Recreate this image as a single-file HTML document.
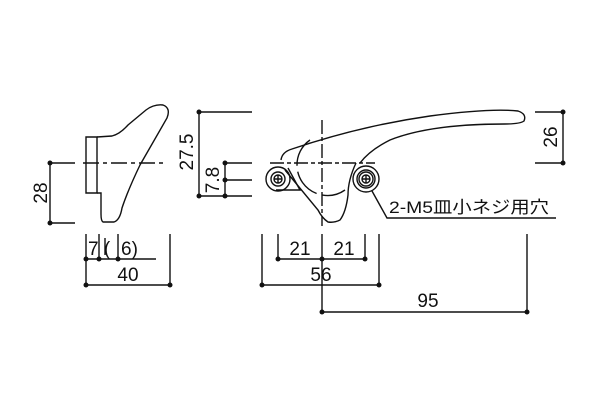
<!DOCTYPE html>
<html><head><style>body{margin:0;background:#fff}svg{display:block}text{font-family:"Liberation Sans","Noto Sans CJK JP",sans-serif;fill:#111}</style></head><body>
<svg width="600" height="400" viewBox="0 0 600 400" xmlns="http://www.w3.org/2000/svg">
<g stroke="#111" stroke-width="1.4" fill="none">
<path d="M86 137 H97 V193 H86 Z"/>
<path d="M97 137 L112 136 Q120 134 128 125 L146 110 Q154 104 163 105 Q171 108 167 118 L140 165 Q128 190 122 208 Q120 220 114 222 H103 Q101 221 101 214 V193 H97"/>
<path d="M83 163 H167" stroke-dasharray="16 4 4 4"/>
<path d="M50 163 V223 M50 163 H75 M50 223 H75"/>
<path d="M86 234 V285 M99 234 V259 M118 234 V259 M86 259 H156 M170 234 V285 M86 285 H170"/>
<path d="M322 120 V226" stroke-dasharray="14 3 4 3"/>
<path d="M270 163 H375" stroke-dasharray="14 3 4 3"/>
<path d="M310 140 A27 27 0 1 0 345 190" stroke-dasharray="30 6"/>
<path d="M281 160 Q282 152 292 149 Q360 126 430 116 Q490 108 518 111 Q527 114 524 121 Q520 124 505 124 Q430 124 390 140 Q370 150 360 163"/>
<path d="M356 163 Q348 180 348 195 Q346 212 340 220 Q334 223 328 222 Q322 218 318 210 L285 170"/>
<path d="M288 168 L300 190 H276"/>
<circle cx="278" cy="179" r="12"/><circle cx="278" cy="179" r="7"/><circle cx="278" cy="179" r="4"/>
<circle cx="366" cy="179" r="13"/><circle cx="366" cy="179" r="9"/><circle cx="366" cy="179" r="7"/><circle cx="366" cy="179" r="4"/>
<path d="M274 179 H282 M278 175 V183 M362 179 H370 M366 175 V183"/>
<path d="M372 191 L387 218 H556"/>
<path d="M199 112 V196 M199 112 H252 M225 163 V196 M225 163 H252 M225 180 H252 M199 196 H252"/>
<path d="M563 112 V163 M535 112 H563 M535 163 H563"/>
<path d="M262 234 V285 M278 234 V259 M322 234 V312 M365 234 V259 M379 234 V285 M278 259 H365 M262 285 H379 M527 234 V312 M322 312 H527"/>
<path d="M105 238 V255"/>
</g>
<g fill="#111">
<circle cx="50" cy="163" r="2.5"/><circle cx="50" cy="223" r="2.5"/>
<circle cx="86" cy="259" r="2.5"/><circle cx="99" cy="259" r="2.5"/><circle cx="118" cy="259" r="2.5"/>
<circle cx="86" cy="285" r="2.5"/><circle cx="170" cy="285" r="2.5"/>
<circle cx="199" cy="112" r="2.5"/><circle cx="199" cy="196" r="2.5"/><circle cx="225" cy="163" r="2.5"/><circle cx="225" cy="180" r="2.5"/><circle cx="225" cy="196" r="2.5"/>
<circle cx="563" cy="112" r="2.5"/><circle cx="563" cy="163" r="2.5"/>
<circle cx="278" cy="259" r="2.5"/><circle cx="322" cy="259" r="2.5"/><circle cx="365" cy="259" r="2.5"/>
<circle cx="262" cy="285" r="2.5"/><circle cx="379" cy="285" r="2.5"/>
<circle cx="322" cy="312" r="2.5"/><circle cx="527" cy="312" r="2.5"/>
</g>
<g font-size="19">
<text x="40" y="193" text-anchor="middle" transform="rotate(-90 40 193)" dy="7">28</text>
<text x="88" y="255">7</text>
<text x="107" y="255" text-anchor="middle">(</text>
<text x="121" y="255">6)</text>
<text x="128" y="281" text-anchor="middle">40</text>
<text x="186" y="152" text-anchor="middle" transform="rotate(-90 186 152)" dy="7">27.5</text>
<text x="212" y="180" text-anchor="middle" transform="rotate(-90 212 180)" dy="7">7.8</text>
<text x="550" y="137" text-anchor="middle" transform="rotate(-90 550 137)" dy="7">26</text>
<text x="300" y="255" text-anchor="middle">21</text>
<text x="344" y="255" text-anchor="middle">21</text>
<text x="321" y="281" text-anchor="middle">56</text>
<text x="428" y="307" text-anchor="middle">95</text>
<text x="389" y="213" font-size="17" textLength="160" lengthAdjust="spacingAndGlyphs">2-M5皿小ネジ用穴</text>
</g>
</svg>
</body></html>
